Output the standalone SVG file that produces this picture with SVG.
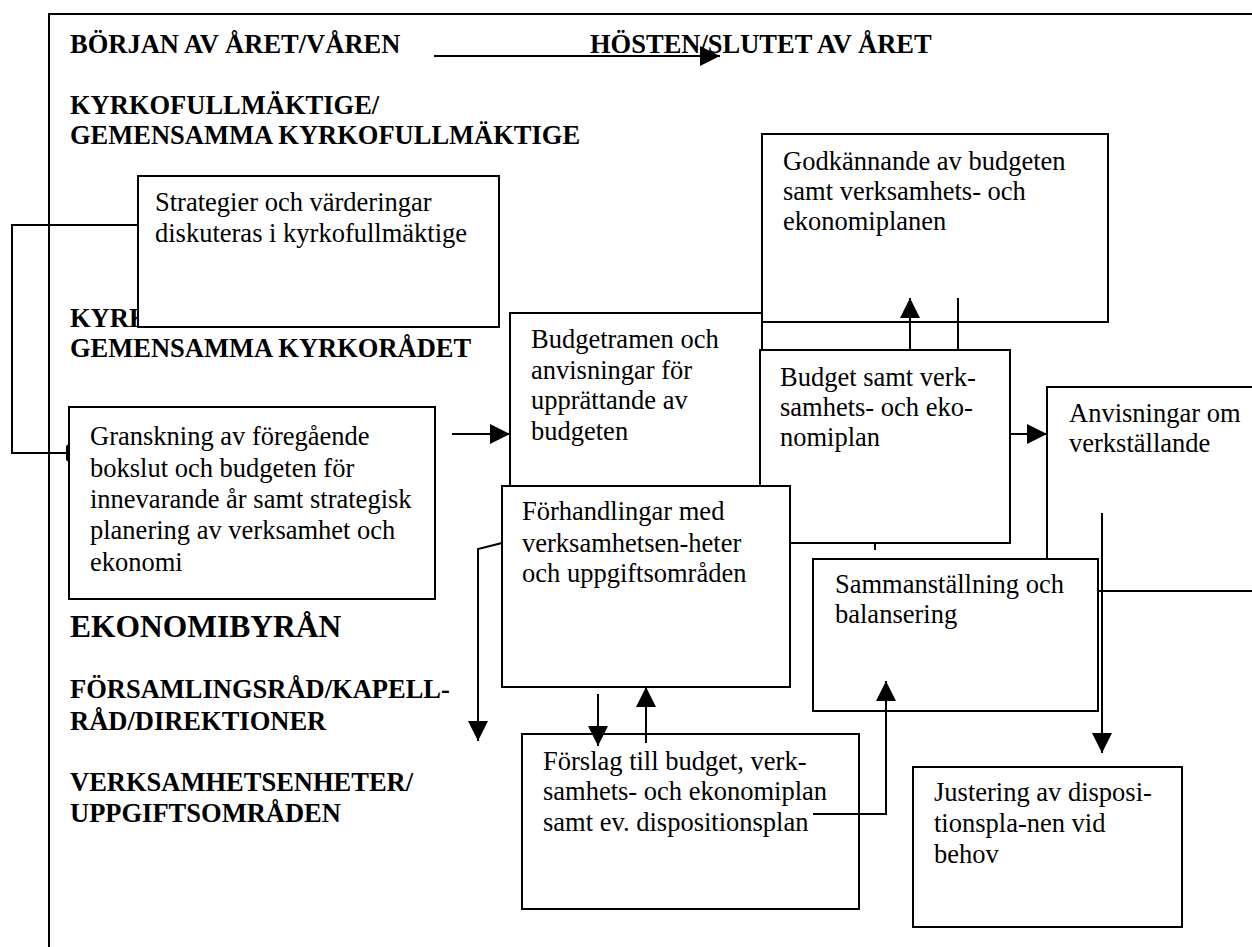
<svg xmlns="http://www.w3.org/2000/svg" width="1252" height="947" viewBox="0 0 1252 947">
<style>
.bx{fill:#fff;stroke:#000;stroke-width:2}
.t{font-family:"Liberation Serif","Times New Roman",serif;font-size:26.5px;fill:#000}
.h{font-family:"Liberation Serif","Times New Roman",serif;font-size:26.5px;font-weight:bold;fill:#000}
.hl{font-family:"Liberation Serif","Times New Roman",serif;font-size:31.5px;font-weight:bold;fill:#000}
.c{fill:none;stroke:#000;stroke-width:2}
</style>
<defs>
<marker id="ah" markerUnits="userSpaceOnUse" markerWidth="20" markerHeight="20" refX="20" refY="10" orient="auto" viewBox="0 0 20 20">
<path d="M0,0 L20,10 L0,20 z" fill="#000"/>
</marker>
</defs>
<rect width="1252" height="947" fill="#fff"/>
<path d="M49,947 V14 H1252" fill="none" stroke="#000" stroke-width="2"/>

<g id="headers">
<text class="h" x="70" y="53">BÖRJAN AV ÅRET/VÅREN</text>
<text class="h" x="590" y="53">HÖSTEN/SLUTET AV ÅRET</text>
<text class="h" x="70" y="114">KYRKOFULLMÄKTIGE/</text>
<text class="h" x="70" y="144">GEMENSAMMA KYRKOFULLMÄKTIGE</text>
<text class="h" x="70" y="327">KYRKORÅDET/</text>
<text class="h" x="70" y="357">GEMENSAMMA KYRKORÅDET</text>
<text class="hl" x="70" y="637">EKONOMIBYRÅN</text>
<text class="h" x="70" y="698">FÖRSAMLINGSRÅD/KAPELL-</text>
<text class="h" x="70" y="730">RÅD/DIREKTIONER</text>
<text class="h" x="70" y="791">VERKSAMHETSENHETER/</text>
<text class="h" x="70" y="822">UPPGIFTSOMRÅDEN</text>
</g>

<g id="godkannande">
<rect class="bx" x="762" y="134" width="346" height="188"/>
<text class="t" x="783" y="170">Godkännande av budgeten</text>
<text class="t" x="783" y="200">samt verksamhets- och</text>
<text class="t" x="783" y="230">ekonomiplanen</text>
</g>

<g id="anvisningar">
<rect class="bx" x="1047" y="387" width="230" height="204"/>
<text class="t" x="1069" y="422">Anvisningar om</text>
<text class="t" x="1069" y="452">verkställande</text>
</g>

<g id="budgetramen">
<rect class="bx" x="510" y="313" width="252" height="250"/>
<text class="t" x="531" y="348">Budgetramen och</text>
<text class="t" x="531" y="379">anvisningar för</text>
<text class="t" x="531" y="409">upprättande av</text>
<text class="t" x="531" y="440">budgeten</text>
</g>

<g id="budget">
<rect class="bx" x="760" y="350" width="250" height="193"/>
<text class="t" x="780" y="386">Budget samt verk-</text>
<text class="t" x="780" y="416">samhets- och eko-</text>
<text class="t" x="780" y="446">nomiplan</text>
</g>

<g id="strategier">
<rect class="bx" x="138" y="176" width="361" height="151"/>
<text class="t" x="155" y="211">Strategier och värderingar</text>
<text class="t" x="155" y="242">diskuteras i kyrkofullmäktige</text>
</g>

<g id="granskning">
<rect class="bx" x="69" y="407" width="366" height="192"/>
<text class="t" x="90" y="445">Granskning av föregående</text>
<text class="t" x="90" y="477">bokslut och budgeten för</text>
<text class="t" x="90" y="508">innevarande år samt strategisk</text>
<text class="t" x="90" y="539">planering av verksamhet och</text>
<text class="t" x="90" y="571">ekonomi</text>
</g>

<g id="forhandlingar">
<rect class="bx" x="502" y="486" width="288" height="201"/>
<text class="t" x="522" y="520">Förhandlingar med</text>
<text class="t" x="522" y="552">verksamhetsen-heter</text>
<text class="t" x="522" y="582">och uppgiftsområden</text>
</g>

<g id="sammanstallning">
<rect class="bx" x="813" y="559" width="285" height="152"/>
<text class="t" x="835" y="593">Sammanställning och</text>
<text class="t" x="835" y="623">balansering</text>
</g>

<g id="forslag">
<rect class="bx" x="522" y="734" width="337" height="175"/>
<text class="t" x="543" y="770">Förslag till budget, verk-</text>
<text class="t" x="543" y="800">samhets- och ekonomiplan</text>
<text class="t" x="543" y="831">samt ev. dispositionsplan</text>
</g>

<g id="justering">
<rect class="bx" x="913" y="767" width="269" height="160"/>
<text class="t" x="934" y="801">Justering av disposi-</text>
<text class="t" x="934" y="832">tionspla-nen vid</text>
<text class="t" x="934" y="863">behov</text>
</g>

<g id="connectors">
<path class="c" d="M434,56 H720" marker-end="url(#ah)"/>
<path class="c" d="M138,225 H12 V453 H67"/>
<polygon points="66,446 70,443 70,463 66,460" fill="#000"/>
<path class="c" d="M452,434 H510" marker-end="url(#ah)"/>
<path class="c" d="M910,350 V298" marker-end="url(#ah)"/>
<path class="c" d="M958,350 V298"/>
<path class="c" d="M1010,434 H1047" marker-end="url(#ah)"/>
<path class="c" d="M875,543 V550"/>
<path class="c" d="M502,543 L478,549 V741" marker-end="url(#ah)"/>
<path class="c" d="M598,694 V746" marker-end="url(#ah)"/>
<path class="c" d="M646,743 V687" marker-end="url(#ah)"/>
<path class="c" d="M813,814 H886 V681" marker-end="url(#ah)"/>
<path class="c" d="M1102,513 V753" marker-end="url(#ah)"/>
</g>
</svg>
